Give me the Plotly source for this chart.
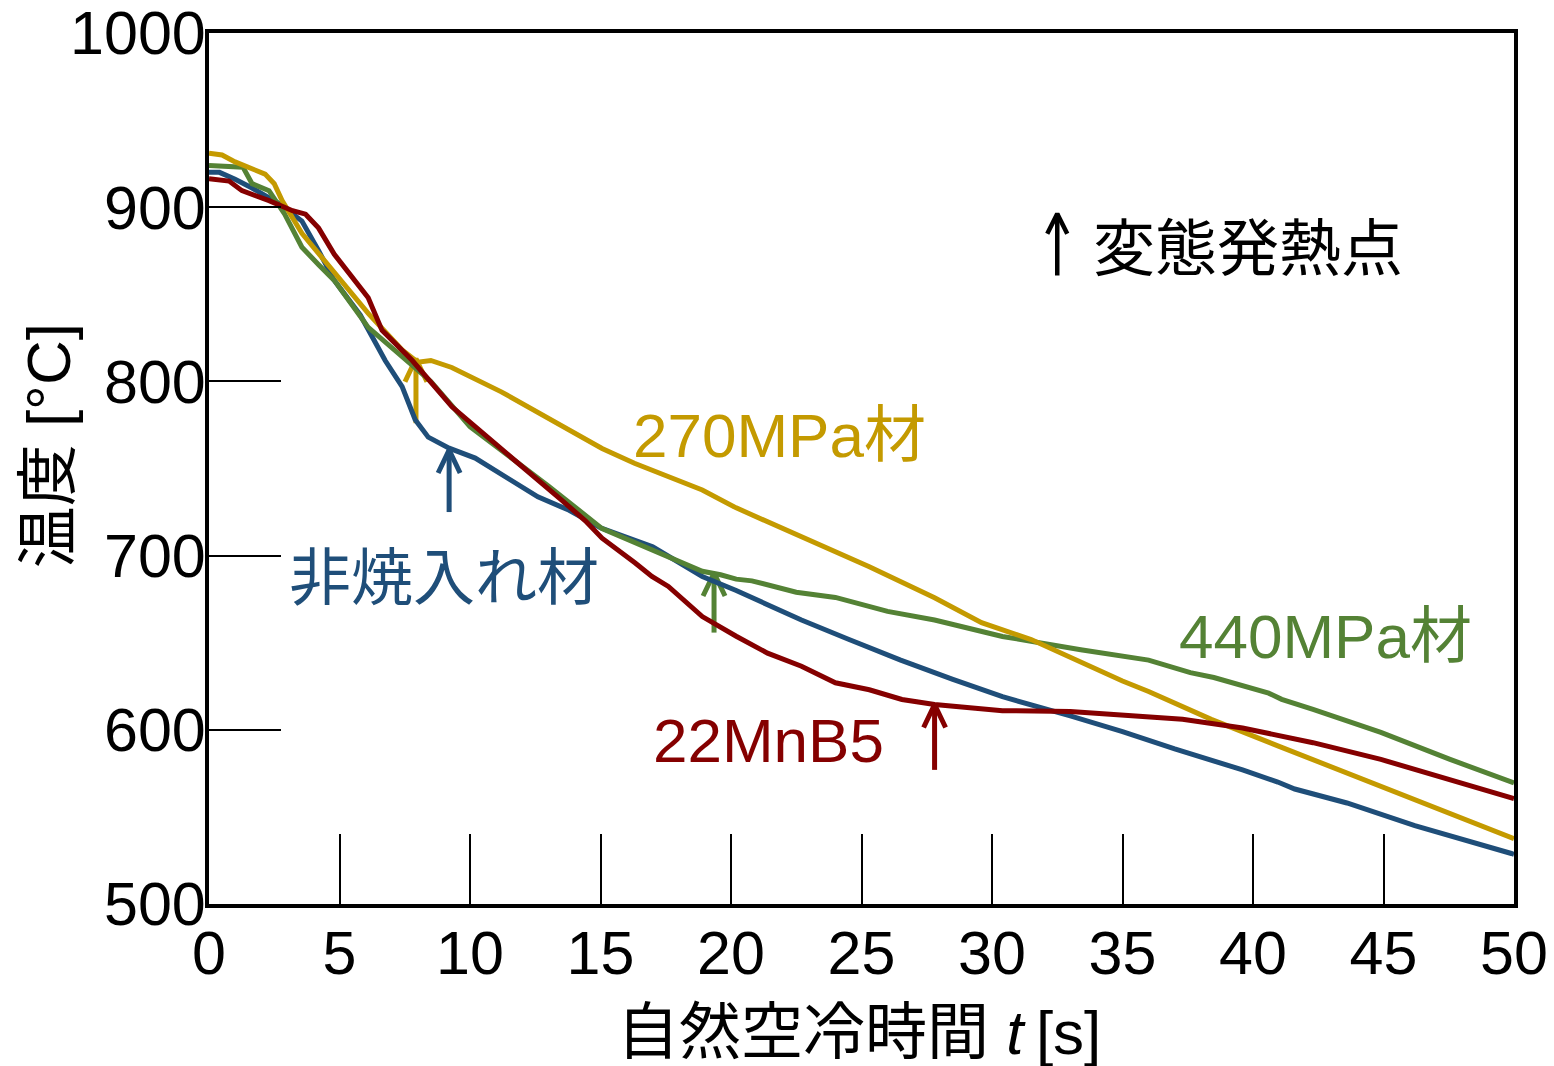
import plotly.graph_objects as go

# ---------------- data ----------------
# 非焼入れ材 (blue)
t_blue = [0, 0.4, 1.0, 1.65, 2.7, 3.56, 4.2, 4.8, 5.8, 6.75, 7.4, 7.9, 8.4, 9.2,
          10.2, 11.2, 12.6, 13.8, 15.0, 17.0, 18.9, 20.2, 22.7, 24.5, 26.5,
          28.5, 30.4, 33.0, 35.0, 37.0, 39.6, 40.95, 41.6, 43.6, 46.2, 49.9, 50]
T_blue = [920, 920, 916, 911, 902, 892, 875, 858, 838, 812, 797, 778, 768, 761.7,
          756, 747, 733.7, 726, 716, 705, 688, 680, 663, 652, 640,
          629, 619, 608, 599, 589, 577, 570, 566, 558, 545, 529, 528.5]

# 440MPa材 (green)
t_green = [0, 1.3, 1.65, 2.3, 2.9, 3.56, 4.2, 4.8, 6.1, 7.4, 8.5, 10.0, 11.5, 13.0,
           15.06, 17.0, 18.9, 19.6, 20.2, 20.8, 22.5, 24.0, 26.0, 27.8, 29.6, 30.4,
           33.4, 35.05, 36.0, 37.6, 38.5, 40.6, 41.1, 42.3, 44.9, 47.55, 49.9, 50]
T_green = [924, 923, 913.5, 909.5, 896, 877, 867, 858, 831, 814, 800, 774, 757, 740,
           715.5, 703, 691, 689, 686.5, 685.5, 679, 676, 668, 663, 656, 653.6,
           646, 642, 640, 632.8, 630, 621, 617.5, 611.7, 598.5, 583, 570, 569.5]

# 270MPa材 (gold)
t_gold = [0, 0.5, 1.0, 1.65, 2.15, 2.5, 2.8, 3.56, 4.2, 4.8, 6.1, 7.4, 7.8, 8.0, 8.5,
          9.3, 11.2, 13.1, 15.06, 16.3, 17.0, 18.9, 20.2, 22.7, 25.3, 27.8, 29.6,
          31.5, 33.4, 35.0, 36.0, 38.4, 41.0, 43.5, 46.9, 49.9, 50]
T_gold = [931, 930, 926, 922, 919, 913.5, 903.8, 885, 873.4, 862, 839, 818, 813, 811, 812,
          808, 794, 778, 761.5, 753, 749, 737.7, 727.4, 710.8, 693.6, 675.8, 661.5,
          651.8, 638.6, 628, 622, 606, 590.5, 575.6, 556, 538, 537.5]

# 22MnB5 (red)
t_red = [0, 0.77, 1.26, 2.3, 3.2, 3.7, 4.2, 4.8, 6.1, 6.63, 7.78, 9.31, 11.1, 12.63,
         13.5, 14.42, 15.06, 16.33, 16.97, 17.6, 18.9, 20.2, 21.4, 22.7, 24.0, 25.3,
         26.55, 27.8, 30.4, 33.0, 35.7, 37.3, 39.6, 41.1, 42.3, 44.9, 47.55, 49.9, 50]
T_red = [916.4, 915, 909.5, 903.8, 898, 896, 888, 873, 848, 829.3, 812.1, 785.4, 762.5, 743.4,
         732, 720, 710, 695.7, 688, 682.3, 665, 653.7, 644, 636.5, 627, 623,
         617.4, 614.5, 611, 610.5, 607.7, 606, 601, 596, 592.6, 583, 571.6, 561, 560.5]

# transformation-heat arrows: time, tip temperature, tail temperature
arrow_t = [7.93, 9.2, 19.35, 27.8]
arrow_tip = [813, 760.6, 690, 614.5]
arrow_tail = [776, 725, 655.8, 577]

# legend arrow
legend_arrow_t = 32.5
legend_arrow_tip = 896.3
legend_arrow_tail = 860.8

x_ticks = [0, 5, 10, 15, 20, 25, 30, 35, 40, 45, 50]
y_ticks = [500, 600, 700, 800, 900, 1000]

# ---------------- style ----------------
BLUE = "#1F4E79"
GREEN = "#548235"
GOLD = "#C49A00"
RED = "#850000"
FONT = "Liberation Sans, Arial, Noto Sans CJK JP, sans-serif"
FS = 61

# page has an 8px body margin; the figure is sized so the plot area lands
# at the reference pixel positions inside the 1554x1066 window
W, H = 1546, 1058
L, R, T, B = 201, 40, 25, 162
XMIN, XMAX, YMIN, YMAX = 0, 50, 500, 1000
px_per_x = (W - L - R) / (XMAX - XMIN)
px_per_y = (H - T - B) / (YMAX - YMIN)

fig = go.Figure()


def add_arrow(t, tip, tail, color, width=5, wing_px=11, head_px=23):
    dx = wing_px / px_per_x
    dy = head_px / px_per_y
    xs = [t, t, None, t - dx, t, t + dx]
    ys = [tail, tip, None, tip - dy, tip, tip - dy]
    fig.add_trace(go.Scatter(x=xs, y=ys, mode="lines",
                             line=dict(color=color, width=width),
                             hoverinfo="skip", showlegend=False))


arrow_colors = [GOLD, BLUE, GREEN, RED]
for t, tip, tail, c in zip(arrow_t, arrow_tip, arrow_tail, arrow_colors):
    add_arrow(t, tip, tail, c)

add_arrow(legend_arrow_t, legend_arrow_tip, legend_arrow_tail, "black",
          width=4.5, wing_px=10, head_px=20)

for name, xs, ys, c in [("非焼入れ材", t_blue, T_blue, BLUE),
                        ("440MPa材", t_green, T_green, GREEN),
                        ("270MPa材", t_gold, T_gold, GOLD),
                        ("22MnB5", t_red, T_red, RED)]:
    fig.add_trace(go.Scatter(x=xs, y=ys, mode="lines", name=name,
                             line=dict(color=c, width=5),
                             showlegend=False))

labels = [
    ("270MPa材", 21.86, 769.2, GOLD),
    ("非焼入れ材", 9.0, 686.7, BLUE),
    ("440MPa材", 42.78, 653.3, GREEN),
    ("22MnB5", 21.42, 593.9, RED),
    ("変態発熱点", 39.8, 875.7, "black"),
]
for text, x, y, c in labels:
    fig.add_annotation(x=x, y=y, xref="x", yref="y", text=text, showarrow=False,
                       font=dict(family=FONT, size=62, color=c),
                       xanchor="center", yanchor="middle")

# axis titles
fig.add_annotation(x=0.498, y=-0.147, xref="paper", yref="paper",
                   text="自然空冷時間 <i>t</i>\u2009[s]", showarrow=False,
                   font=dict(family=FONT, size=62, color="black"),
                   xanchor="center", yanchor="middle")
fig.add_annotation(x=-0.123, y=0.526, xref="paper", yref="paper",
                   text="温度 [°C]", showarrow=False, textangle=-90,
                   font=dict(family=FONT, size=62, color="black"),
                   xanchor="center", yanchor="middle")

axis_common = dict(showgrid=False, zeroline=False, showline=True, linecolor="black",
                   linewidth=4, mirror=True, ticks="inside", tickcolor="black",
                   tickwidth=2, ticklabeloverflow="allow",
                   tickfont=dict(family=FONT, size=FS, color="black"))

fig.update_xaxes(range=[XMIN, XMAX], tickvals=x_ticks, ticklen=70,
                 ticklabelstandoff=-7, automargin=False, **axis_common)
fig.update_yaxes(range=[YMIN, YMAX], tickvals=y_ticks, ticklen=72,
                 ticklabelstandoff=-13, automargin=False, **axis_common)

fig.update_layout(width=W, height=H, margin=dict(l=L, r=R, t=T, b=B),
                  plot_bgcolor="white", paper_bgcolor="white",
                  font=dict(family=FONT, color="black"))

fig.write_html("out.html")
